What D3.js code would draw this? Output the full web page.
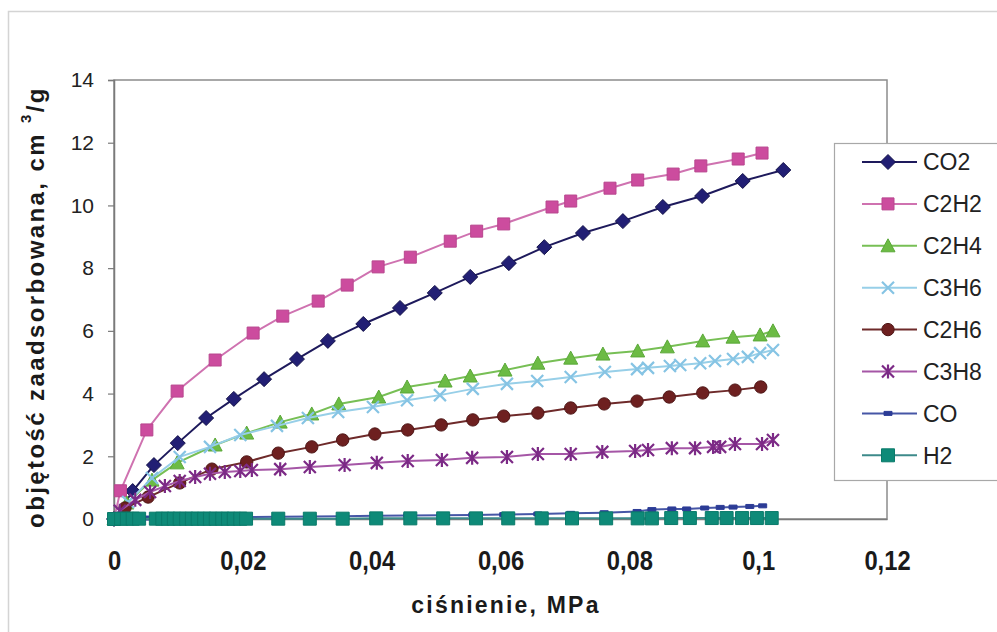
<!DOCTYPE html>
<html>
<head>
<meta charset="utf-8">
<script src="https://cdnjs.cloudflare.com/ajax/libs/d3/7.8.5/d3.min.js"></script>
<style>
html,body{margin:0;padding:0;background:#fff;}
svg{display:block;}
</style>
</head>
<body>
<svg id="chart" width="997" height="632"></svg>
<script>
// ---------- DATA ----------
const xTicks = [0, 0.02, 0.04, 0.06, 0.08, 0.1, 0.12];
const yTicks = [0, 2, 4, 6, 8, 10, 12, 14];
const seriesNames = ["CO2", "C2H2", "C2H4", "C3H6", "C2H6", "C3H8", "CO", "H2"];

const co2P = [0, 0.0029, 0.0062, 0.0099, 0.0143, 0.0186, 0.0233, 0.0284, 0.0332, 0.0387, 0.0444, 0.0498, 0.0553, 0.0613, 0.0668, 0.0728, 0.079, 0.0852, 0.0913, 0.0976, 0.1039];
const co2V = [0, 0.89, 1.72, 2.42, 3.22, 3.83, 4.46, 5.10, 5.68, 6.22, 6.73, 7.21, 7.72, 8.16, 8.67, 9.12, 9.50, 9.95, 10.30, 10.78, 11.13];

const c2h2P = [0, 0.001, 0.0051, 0.0098, 0.0157, 0.0216, 0.0262, 0.0317, 0.0362, 0.041, 0.046, 0.0522, 0.0563, 0.0605, 0.068, 0.0709, 0.077, 0.0813, 0.0868, 0.0911, 0.0969, 0.1006];
const c2h2V = [0, 0.9, 2.84, 4.08, 5.07, 5.93, 6.47, 6.95, 7.46, 8.04, 8.35, 8.86, 9.18, 9.41, 9.95, 10.14, 10.55, 10.81, 11.0, 11.26, 11.48, 11.67];

const c2h4P = [0, 0.0020, 0.0059, 0.0098, 0.0157, 0.0206, 0.0258, 0.0307, 0.0349, 0.0411, 0.0455, 0.0514, 0.0553, 0.0607, 0.0658, 0.0709, 0.0759, 0.0813, 0.0859, 0.0914, 0.0961, 0.1003, 0.1023];
const c2h4V = [0, 0.51, 1.24, 1.79, 2.36, 2.74, 3.09, 3.35, 3.67, 3.89, 4.21, 4.40, 4.56, 4.75, 4.97, 5.13, 5.26, 5.36, 5.49, 5.68, 5.80, 5.87, 6.00];

const c3h6P = [0, 0.0022, 0.0059, 0.0102, 0.0149, 0.0196, 0.0253, 0.0301, 0.0348, 0.0402, 0.0455, 0.0506, 0.0557, 0.0610, 0.0657, 0.0709, 0.0762, 0.0812, 0.0829, 0.0863, 0.0879, 0.0910, 0.0933, 0.0961, 0.0984, 0.1003, 0.1023];
const c3h6V = [0, 0.54, 1.31, 1.98, 2.30, 2.68, 2.97, 3.22, 3.41, 3.57, 3.79, 3.95, 4.15, 4.31, 4.40, 4.53, 4.69, 4.78, 4.82, 4.88, 4.91, 4.97, 5.04, 5.10, 5.17, 5.29, 5.39];

const c2h6P = [0, 0.0017, 0.0053, 0.0102, 0.0152, 0.0206, 0.0255, 0.0307, 0.0355, 0.0405, 0.0456, 0.0508, 0.0557, 0.0605, 0.0658, 0.0709, 0.0761, 0.0812, 0.0862, 0.0914, 0.0964, 0.1004];
const c2h6V = [0, 0.35, 0.70, 1.15, 1.59, 1.82, 2.10, 2.30, 2.52, 2.71, 2.84, 3.00, 3.16, 3.28, 3.38, 3.54, 3.67, 3.76, 3.89, 4.02, 4.11, 4.21];

const c3h8P = [0, 0.0009, 0.0033, 0.0056, 0.0079, 0.0102, 0.0126, 0.0149, 0.0172, 0.0196, 0.0214, 0.0258, 0.0304, 0.0358, 0.0408, 0.0456, 0.0509, 0.0556, 0.0610, 0.0658, 0.0709, 0.0758, 0.0809, 0.0829, 0.0866, 0.0902, 0.0930, 0.0941, 0.0964, 0.1006, 0.1023];
const c3h8V = [0, 0.26, 0.61, 0.86, 1.05, 1.21, 1.34, 1.44, 1.50, 1.53, 1.56, 1.59, 1.66, 1.72, 1.79, 1.85, 1.88, 1.95, 1.98, 2.07, 2.07, 2.14, 2.17, 2.20, 2.26, 2.26, 2.30, 2.30, 2.39, 2.39, 2.52];

const coP = [0, 0.0017, 0.0053, 0.0102, 0.0152, 0.0206, 0.0255, 0.0307, 0.0355, 0.0405, 0.0456, 0.0508, 0.0557, 0.0605, 0.0658, 0.0709, 0.0761, 0.0812, 0.0835, 0.0866, 0.0889, 0.0917, 0.0941, 0.0961, 0.0987, 0.1007];
const coV = [0, 0.02, 0.03, 0.04, 0.05, 0.06, 0.07, 0.08, 0.09, 0.10, 0.11, 0.12, 0.13, 0.14, 0.16, 0.18, 0.20, 0.24, 0.30, 0.32, 0.32, 0.35, 0.37, 0.38, 0.40, 0.42];

const h2P = [0, 0.0011, 0.0020, 0.0029, 0.0039, 0.0065, 0.0075, 0.0084, 0.0093, 0.0102, 0.0112, 0.0121, 0.0130, 0.0140, 0.0149, 0.0158, 0.0168, 0.0177, 0.0186, 0.0196, 0.0205, 0.0255, 0.0304, 0.0355, 0.0407, 0.0460, 0.0511, 0.0562, 0.0612, 0.0664, 0.0711, 0.0764, 0.0813, 0.0835, 0.0865, 0.0894, 0.0928, 0.0951, 0.0975, 0.0998, 0.1021];
const h2V = [0, 0.01, 0.01, 0.01, 0.01, 0.01, 0.01, 0.01, 0.01, 0.01, 0.01, 0.01, 0.01, 0.01, 0.01, 0.01, 0.01, 0.01, 0.01, 0.01, 0.01, 0.01, 0.01, 0.01, 0.02, 0.02, 0.02, 0.02, 0.02, 0.02, 0.02, 0.02, 0.02, 0.02, 0.03, 0.03, 0.03, 0.03, 0.03, 0.03, 0.03];

// ---------- STYLE ----------
const styles = {
  CO2:  {line:"#1e1a5c", fill:"#221f74", stroke:"#15134a", marker:"diamond"},
  C2H2: {line:"#cf72b0", fill:"#cc4c9e", stroke:"#b8468e", marker:"square"},
  C2H4: {line:"#77bf55", fill:"#6cbb44", stroke:"#5aa838", marker:"triangle"},
  C3H6: {line:"#97cfe8", fill:"none",    stroke:"#86c4e4", marker:"times"},
  C2H6: {line:"#6e2a2a", fill:"#6e2020", stroke:"#4e1616", marker:"circle"},
  C3H8: {line:"#a556a6", fill:"none",    stroke:"#7c2a86", marker:"asterisk"},
  CO:   {line:"#4656a6", fill:"#2c3c96", stroke:"#2c3c96", marker:"dash"},
  H2:   {line:"#3d8a8a", fill:"#0e8a78", stroke:"#0a7a6a", marker:"bigsquare"}
};

const dataSets = [
  [co2P, co2V], [c2h2P, c2h2V], [c2h4P, c2h4V], [c3h6P, c3h6V],
  [c2h6P, c2h6V], [c3h8P, c3h8V], [coP, coV], [h2P, h2V]
];

// ---------- CHART ----------
const svg = d3.select("#chart");
const X0 = 114, X1 = 887, Y0 = 80, Y1 = 519;
const x = d3.scaleLinear().domain([0, 0.12]).range([X0, X1]);
const y = d3.scaleLinear().domain([0, 14]).range([Y1, Y0]);

// outer frame
svg.append("rect").attr("x", 8.5).attr("y", 11.5).attr("width", 1000).attr("height", 640)
  .attr("fill", "none").attr("stroke", "#d4d4d4").attr("stroke-width", 1.5);

// plot area border
svg.append("rect").attr("x", X0).attr("y", Y0).attr("width", X1 - X0).attr("height", Y1 - Y0)
  .attr("fill", "none").attr("stroke", "#8c8c8c").attr("stroke-width", 1.5);

// axes
const yAxis = svg.append("g").attr("transform", `translate(${X0},0)`)
  .call(d3.axisLeft(y).tickValues(yTicks).tickSize(6).tickPadding(14).tickFormat(d3.format("d")));
yAxis.select(".domain").attr("stroke", "#7a7a7a").attr("stroke-width", 1.5);
yAxis.selectAll(".tick line").attr("stroke", "#7a7a7a").attr("stroke-width", 1.2);
yAxis.selectAll("text").attr("font-family", "'Liberation Sans', Arial, sans-serif")
  .attr("font-size", 21).attr("fill", "#222");

const fmtX = d => d === 0 ? "0" : String(+d.toFixed(2)).replace(".", ",");
const xAxis = svg.append("g").attr("transform", `translate(0,${Y1})`)
  .call(d3.axisBottom(x).tickValues(xTicks).tickSize(0).tickPadding(32).tickFormat(fmtX));
xAxis.select(".domain").attr("stroke", "#7a7a7a").attr("stroke-width", 1.5);
xAxis.selectAll("text").attr("font-family", "'Liberation Sans', Arial, sans-serif")
  .attr("font-weight", "bold").attr("font-size", 27).attr("fill", "#1a1a1a")
  .attr("transform", "scale(0.88,1)");

// axis titles
svg.append("text").attr("x", 506).attr("y", 613).attr("text-anchor", "middle")
  .attr("font-family", "'Liberation Sans', Arial, sans-serif").attr("font-weight", "bold")
  .attr("font-size", 23).attr("letter-spacing", 2.2).attr("fill", "#1a1a1a")
  .text("ciśnienie, MPa");

const yt = svg.append("text").attr("transform", "translate(44,307) rotate(-90)")
  .attr("text-anchor", "middle")
  .attr("font-family", "'Liberation Sans', Arial, sans-serif").attr("font-weight", "bold")
  .attr("font-size", 24).attr("letter-spacing", 2.4).attr("fill", "#1a1a1a");
yt.append("tspan").text("objętość zaadsorbowana, cm ");
yt.append("tspan").attr("font-size", 15).attr("dy", -13).text("3");
yt.append("tspan").attr("dy", 13).text("/g");

// marker generator
function markerPath(type) {
  switch (type) {
    case "diamond": return "M0,-7.5L7.5,0L0,7.5L-7.5,0Z";
    case "square": return "M-6,-6H6V6H-6Z";
    case "bigsquare": return "M-6.5,-6.5H6.5V6.5H-6.5Z";
    case "triangle": return "M0,-7L7,6H-7Z";
    case "circle": return d3.symbol(d3.symbolCircle, 120)();
    case "times": return "M-6,-6L6,6M-6,6L6,-6";
    case "asterisk": return "M-6,-6L6,6M-6,6L6,-6M0,-7V7";
    case "dash": return "M-4,-2H4V2H-4Z";
  }
}

const line = d3.line().x(d => x(d[0])).y(d => y(d[1]));
const gPlot = svg.append("g");

seriesNames.forEach((name, i) => {
  const st = styles[name];
  const pts = dataSets[i][0].map((p, k) => [p, dataSets[i][1][k]]);
  const g = gPlot.append("g");
  g.append("path").datum(pts).attr("d", line).attr("fill", "none")
    .attr("stroke", st.line).attr("stroke-width", 2);
  const isStroke = st.fill === "none";
  g.selectAll("path.m").data(pts).join("path").attr("class", "m")
    .attr("transform", d => `translate(${x(d[0])},${y(d[1])})`)
    .attr("d", markerPath(st.marker))
    .attr("fill", st.fill)
    .attr("stroke", st.stroke)
    .attr("stroke-width", isStroke ? 2.2 : 1);
});

// legend
const lg = svg.append("g");
lg.append("rect").attr("x", 834.5).attr("y", 143.5).attr("width", 170).attr("height", 337)
  .attr("fill", "#fff").attr("stroke", "#a8a8a8").attr("stroke-width", 1.2);
seriesNames.forEach((name, i) => {
  const st = styles[name];
  const ly = 162 + i * 41.9;
  lg.append("line").attr("x1", 862).attr("x2", 917).attr("y1", ly).attr("y2", ly)
    .attr("stroke", st.line).attr("stroke-width", 2);
  lg.append("path").attr("transform", `translate(888,${ly})`).attr("d", markerPath(st.marker))
    .attr("fill", st.fill).attr("stroke", st.stroke).attr("stroke-width", st.fill === "none" ? 2.2 : 1);
  lg.append("text").attr("x", 923).attr("y", ly).attr("dy", "0.36em")
    .attr("font-family", "'Liberation Sans', Arial, sans-serif").attr("font-size", 23)
    .attr("fill", "#222").text(name);
});
</script>
</body>
</html>
